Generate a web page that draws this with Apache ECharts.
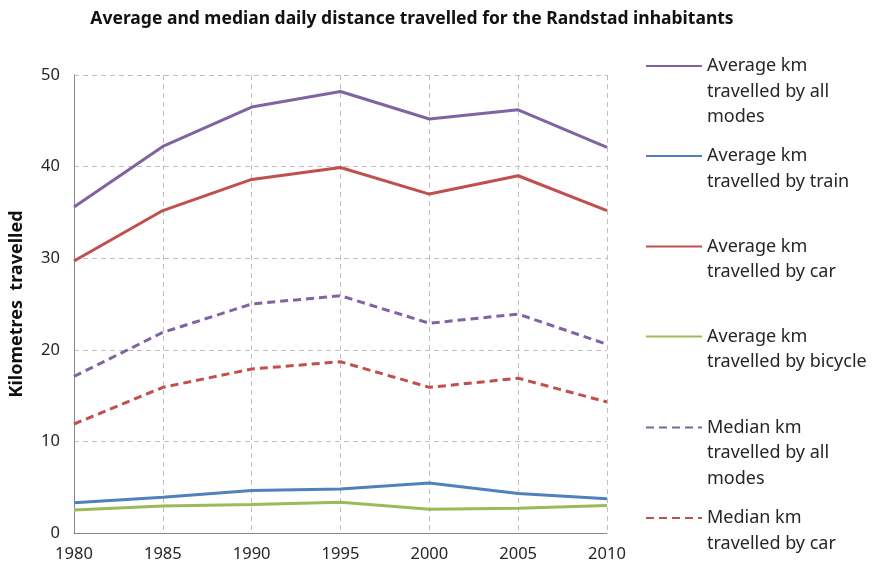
<!DOCTYPE html>
<html><head><meta charset="utf-8">
<script src="https://cdn.jsdelivr.net/npm/echarts@6/dist/echarts.min.js"></script>
<style>html,body{margin:0;padding:0;background:#fff}#c{width:875px;height:572px}</style>
</head><body><div id="c"></div>
<script>
var years = ['1980','1985','1990','1995','2000','2005','2010'];
var avgAll = [35.6, 42.2, 46.5, 48.2, 45.2, 46.2, 42.1];
var avgTrain = [3.3, 3.9, 4.65, 4.8, 5.45, 4.3, 3.75];
var avgCar = [29.7, 35.2, 38.6, 39.9, 37.0, 39.0, 35.2];
var avgBicycle = [2.5, 2.95, 3.1, 3.35, 2.6, 2.7, 3.0];
var medAll = [17.1, 21.9, 25.0, 25.9, 22.9, 23.9, 20.6];
var medCar = [11.9, 15.9, 17.9, 18.7, 15.9, 16.9, 14.3];
var names = ['Average km travelled by all modes','Average km travelled by train','Average km travelled by car','Average km travelled by bicycle','Median km travelled by all modes','Median km travelled by car'];
var legendText = {
  'Average km travelled by all modes': '\n\nAverage km\ntravelled by all\nmodes',
  'Average km travelled by train': '\nAverage km\ntravelled by train',
  'Average km travelled by car': '\nAverage km\ntravelled by car',
  'Average km travelled by bicycle': '\nAverage km\ntravelled by bicycle',
  'Median km travelled by all modes': '\n\nMedian km\ntravelled by all\nmodes',
  'Median km travelled by car': '\nMedian km\ntravelled by car'
};
var colors = ['#8064A2','#4F81BD','#C0504D','#9BBB59','#8064A2','#C0504D'];
var dataSets = [avgAll, avgTrain, avgCar, avgBicycle, medAll, medCar];
var dashed = [false,false,false,false,true,true];
var LH = 25.5;
var iconCenters = [66, 156, 246.5, 336.5, 427.5, 518];
var lineCounts = [5, 3, 3, 3, 5, 3];
var FONT = 'Noto Sans';
var chart = echarts.init(document.getElementById('c'));
var legends = names.map(function(n, i){
  return {
    data: [n], left: 645, top: iconCenters[i] - lineCounts[i] * LH / 2, padding: 0, orient: 'vertical',
    itemWidth: 56, itemHeight: 14, itemGap: 0, selectedMode: false,
    itemStyle: { color: 'rgba(0,0,0,0)', borderColor: 'rgba(0,0,0,0)', borderWidth: 0 },
    formatter: function(name){ return legendText[name]; },
    textStyle: { fontFamily: FONT, fontSize: 18, color: '#262626', lineHeight: LH }
  };
});
var series = names.map(function(n, i){
  return {
    name: n, type: 'line', data: dataSets[i], symbol: 'none', animation: false,
    lineStyle: { color: colors[i], width: 3, type: dashed[i] ? [8,5] : 'solid' },
    itemStyle: { color: colors[i] }
  };
});
chart.setOption({
  backgroundColor: '#fff',
  title: { text: 'Average and median daily distance travelled for the Randstad inhabitants', left: 407, textAlign: 'center', top: 5,
    textStyle: { fontFamily: FONT, fontSize: 17.5, fontWeight: 'bold', color: '#111' } },
  legend: legends,
  grid: { left: 70, right: 268, top: 75, bottom: 39 },
  xAxis: { type: 'category', data: years, boundaryGap: false,
    axisLine: { lineStyle: { color: '#888', width: 1 } }, axisTick: { show: false },
    axisLabel: { fontFamily: FONT, fontSize: 16.5, color: '#262626', margin: 13 },
    splitLine: { show: true, lineStyle: { color: '#BFBFBF', type: [5,4], width: 1 } } },
  yAxis: { type: 'value', min: 0, max: 50, interval: 10,
    name: 'Kilometres  travelled', nameLocation: 'middle', nameGap: 48, nameRotate: 90,
    nameTextStyle: { fontFamily: FONT, fontSize: 18, fontWeight: 'bold', color: '#111' },
    axisLine: { show: true, lineStyle: { color: '#888', width: 1 } }, axisTick: { show: false },
    axisLabel: { fontFamily: FONT, fontSize: 16.5, color: '#262626', margin: 14 },
    splitLine: { show: true, lineStyle: { color: '#BFBFBF', type: [5,4], width: 1 } } },
  series: series
});
</script></body></html>
